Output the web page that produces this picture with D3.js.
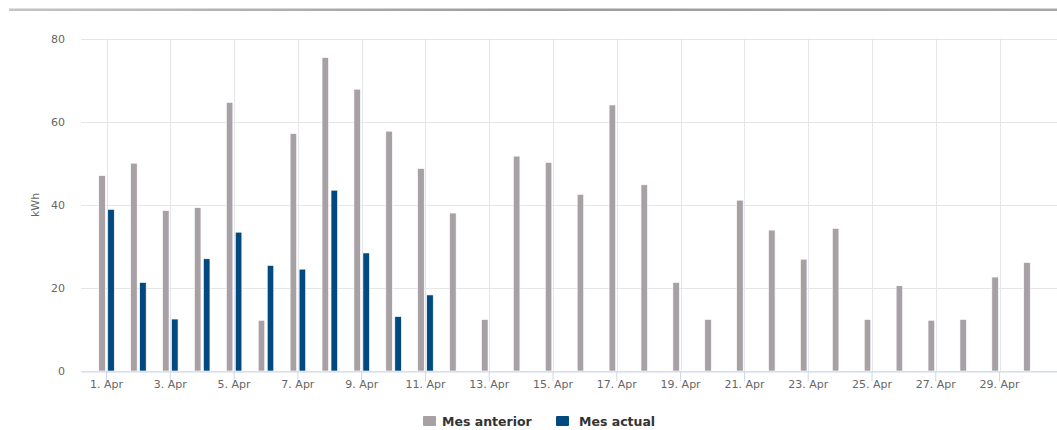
<!DOCTYPE html>
<html>
<head>
<meta charset="utf-8">
<script src="https://cdn.jsdelivr.net/npm/d3@7"></script>
<style>
  html, body { margin: 0; padding: 0; background: #fff; overflow: hidden; }
  svg { display: block; font-family: "DejaVu Sans", Verdana, sans-serif; }
</style>
</head>
<body>
<svg id="chart" width="1057" height="430"></svg>
<script>
// ---- data ----
const days = d3.range(1, 31).map(d => d + ". Apr");
const mesAnterior = [47, 50, 38.6, 39.3, 64.6, 12.2, 57.1, 75.4, 67.8, 57.7,
                     48.7, 38, 12.4, 51.7, 50.2, 42.5, 64, 44.8, 21.3, 12.4,
                     41.1, 33.9, 26.9, 34.3, 12.4, 20.5, 12.2, 12.4, 22.6, 26.1];
const mesActual = [38.9, 21.3, 12.5, 27, 33.4, 25.4, 24.5, 43.5, 28.4, 13.1, 18.3,
                   null, null, null, null, null, null, null, null, null,
                   null, null, null, null, null, null, null, null, null, null];
const seriesNames = ["Mes anterior", "Mes actual"];
const seriesColors = ["#a7a0a5", "#004a80"];
const yTicks = [0, 20, 40, 60, 80];
const xTickLabels = days.filter((d, i) => i % 2 === 0);

// ---- layout ----
const svg = d3.select("#chart");
const plot = { left: 81, right: 1057, top: 38.5, bottom: 371 };

// top decorative rule
const defs = svg.append("defs");
const grad = defs.append("linearGradient").attr("id", "topline");
grad.append("stop").attr("offset", "0%").attr("stop-color", "#c4c4c4");
grad.append("stop").attr("offset", "50%").attr("stop-color", "#9c9c9c");
grad.append("stop").attr("offset", "100%").attr("stop-color", "#a8a8a8");
svg.append("rect").attr("x", 9).attr("y", 8.5).attr("width", 1048).attr("height", 2.5)
  .attr("fill", "url(#topline)");

const x = d3.scaleBand().domain(days).range([plot.left, plot.right])
  .paddingInner(0).paddingOuter(0.3);
const xs = d3.scaleBand().domain(seriesNames).range([-7.75, 7.75]).paddingInner(0.278);
const y = d3.scaleLinear().domain([0, 80]).range([plot.bottom, plot.top]);
const cx = d => x(d) + x.bandwidth() / 2;

// horizontal gridlines
svg.append("g").selectAll("line").data(yTicks).join("line")
  .attr("x1", plot.left).attr("x2", plot.right)
  .attr("y1", d => Math.round(y(d)) + 0.5).attr("y2", d => Math.round(y(d)) + 0.5)
  .attr("stroke", "#e6e6e6").attr("stroke-width", 1);

// vertical gridlines
svg.append("g").selectAll("line").data(xTickLabels).join("line")
  .attr("x1", d => Math.round(cx(d)) + 0.5).attr("x2", d => Math.round(cx(d)) + 0.5)
  .attr("y1", plot.top).attr("y2", plot.bottom)
  .attr("stroke", "#e4e6ec").attr("stroke-width", 1);

// y axis labels
const yAxis = d3.axisLeft(y).tickValues(yTicks).tickSize(0).tickPadding(16);
const gy = svg.append("g").attr("transform", `translate(${plot.left},0)`).call(yAxis);
gy.select(".domain").remove();
gy.selectAll("text").attr("fill", "#666").attr("font-size", 11)
  .attr("font-family", "DejaVu Sans, sans-serif");

svg.append("text").text("kWh")
  .attr("transform", "translate(39,205) rotate(-90)")
  .attr("text-anchor", "middle").attr("fill", "#666").attr("font-size", 11);

// bars
const series = [mesAnterior, mesActual];
series.forEach((vals, si) => {
  svg.append("g").selectAll("rect")
    .data(days.map((d, i) => ({ day: d, v: vals[i] })).filter(o => o.v !== null))
    .join("rect")
    .attr("x", o => cx(o.day) + xs(seriesNames[si]))
    .attr("width", xs.bandwidth())
    .attr("y", o => y(o.v))
    .attr("height", o => y(0) - y(o.v))
    .attr("fill", seriesColors[si])
    .attr("stroke", "#ffffff").attr("stroke-width", 0.6);
});

// x axis
const xAxis = d3.axisBottom(x).tickValues(xTickLabels).tickSize(10).tickSizeOuter(0).tickPadding(2);
const gx = svg.append("g").attr("transform", `translate(0,${plot.bottom + 0.5})`).call(xAxis);
gx.select(".domain").attr("stroke", "#ccd6eb");
gx.selectAll(".tick line").attr("stroke", "#ccd6eb");
gx.selectAll("text").attr("fill", "#666").attr("font-size", 11)
  .attr("font-family", "DejaVu Sans, sans-serif").attr("y", 9);

// legend
const legendItems = [
  { name: seriesNames[0], color: seriesColors[0], x: 423, tx: 442 },
  { name: seriesNames[1], color: seriesColors[1], x: 556, tx: 579 }
];
const lg = svg.append("g");
legendItems.forEach(it => {
  lg.append("rect").attr("x", it.x).attr("y", 416).attr("width", 13).attr("height", 10)
    .attr("rx", 1).attr("fill", it.color);
  lg.append("text").attr("x", it.tx).attr("y", 425.5).text(it.name)
    .attr("font-size", 12.5).attr("font-weight", "bold").attr("fill", "#333");
});
</script>
</body>
</html>
